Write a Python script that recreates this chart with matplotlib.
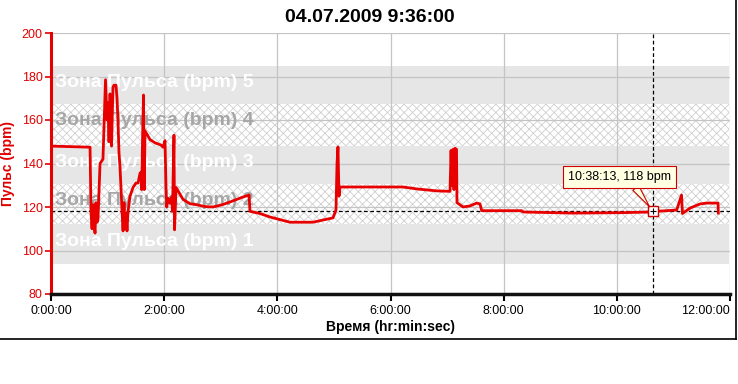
import matplotlib
matplotlib.use("Agg")
import matplotlib.pyplot as plt
from matplotlib.lines import Line2D

plt.rcParams["font.family"] = ["Liberation Sans", "DejaVu Sans"]
plt.rcParams["hatch.linewidth"] = 0.6

# Время в минутах от старта и пульс (bpm)
minutes = [0, 41.4, 42.4, 43.5, 44.5, 45.6, 46.7, 47.7, 48.8, 49.8, 52.0, 55.1,
           57.8, 59.4, 60.4, 61.5, 62.6, 64.2, 65.7, 66.8, 68.9, 70.0, 71.0,
           72.1, 73.2, 74.2, 75.3, 76.4, 77.4, 78.5, 79.5, 80.6, 81.7, 83.8,
           87.0, 90.1, 92.3, 94.4, 95.4, 96.2, 97.0, 98.1, 98.9, 99.7, 105.0,
           110.3, 116.6, 118.8, 120.9, 121.9, 122.7, 124.1, 126.2, 128.0,
           128.8, 130.4, 131.0, 132.6, 140.0, 147.4, 154.8, 163.3, 171.8,
           181.3, 189.8, 203.6, 210.0, 211.0, 221.6, 232.2, 253.4, 277.8,
           299.0, 302.2, 303.3, 304.3, 305.4, 306.5, 373.3, 388.1, 409.3,
           423.1, 424.2, 425.2, 426.3, 427.3, 428.4, 430.0, 430.5, 436.9,
           444.3, 451.4, 454.9, 456.7, 499.1, 500.5, 553.5, 606.6, 635.2,
           638.2, 649.3, 663.5, 668.6, 669.6, 677.6, 688.2, 695.3, 707.3, 707.6]
bpm = [148, 147.5, 118, 110, 121, 112, 108, 122, 113, 114, 140, 142,
       178.5, 160, 168, 150, 172, 148, 175, 176, 176, 170, 160,
       145, 138, 129, 118, 109, 122, 110, 117, 109, 118, 125,
       129, 131, 131, 135.5, 136, 128, 150, 171.5, 128, 155, 151,
       149.5, 148.5, 147.5, 150.5, 130, 120, 124, 121.8, 124.6,
       118, 153, 109.5, 129, 123.5, 121.5, 121, 120.2, 120,
       121, 122.3, 124.6, 125.5, 118, 117, 115.4, 113, 113,
       115, 118.6, 140, 147.6, 125, 129.2, 129.2, 128.3, 127.4,
       127.2, 146, 130, 146.5, 128, 147, 146.5, 122, 120,
       120.5, 121.8, 121.4, 118.3, 118.3, 117.7, 117.2, 117.4, 117.7,
       118, 118.2, 118.6, 125.5, 117, 119.5, 121.4, 121.8, 121.8, 117.2]

zone_edges = [94, 112, 130.5, 148, 167.5, 185]
zone_names = ["Зона Пульса (bpm) 1", "Зона Пульса (bpm) 2", "Зона Пульса (bpm) 3",
              "Зона Пульса (bpm) 4", "Зона Пульса (bpm) 5"]

cursor_sec = 10 * 3600 + 38 * 60 + 13   # 10:38:13
cursor_bpm = 118
title = "04.07.2009 9:36:00"


def hms(m, pos=None):
    s = int(round(m * 60))
    return f"{s // 3600}:{(s % 3600) // 60:02d}:{s % 60:02d}"


cursor_min = cursor_sec / 60

fig = plt.figure(figsize=(7.38, 3.84), dpi=100)
ax = fig.add_axes([51 / 738, 90 / 384, 679 / 738, 261 / 384])

# зоны пульса
for i, name in enumerate(zone_names):
    lo, hi = zone_edges[i], zone_edges[i + 1]
    if i % 2 == 0:
        ax.axhspan(lo, hi, xmin=0.003, xmax=0.998, facecolor="#e6e6e6",
                   edgecolor="none", lw=0, zorder=0.5)
        tcol = "white"
    else:
        ax.axhspan(lo, hi, xmin=0.003, xmax=0.998, facecolor="white",
                   edgecolor="#cfcfcf", hatch="xxxx", lw=0, zorder=0.5)
        tcol = "#a6a6a6"
    ax.text(4, hi - 9.8, name, color=tcol, fontsize=14, fontweight="bold",
            va="baseline", ha="left", zorder=2.6)

ax.plot(minutes, bpm, color="#e80000", lw=2, zorder=3)

ax.axhline(cursor_bpm, color="black", lw=0.9, ls=(0, (3, 2)), zorder=2.7)
ax.axvline(cursor_min, color="black", lw=0.9, ls=(0, (3, 2)), zorder=2.7)

ax.plot(cursor_min, cursor_bpm, marker="s", ms=7, mfc="white", mec="#d00000",
        mew=1, zorder=4)
ax.plot(cursor_min, cursor_bpm, marker="+", ms=5, mec="black", mew=0.8, zorder=5)

ax.annotate(f"{hms(cursor_min)}, {cursor_bpm} bpm", xy=(cursor_min, cursor_bpm),
            xytext=(-24, 25), textcoords="offset points", ha="center", va="center",
            fontsize=9, zorder=6,
            bbox=dict(boxstyle="square,pad=0.4", fc="#ffffe1", ec="#d00000", lw=0.8),
            arrowprops=dict(arrowstyle="wedge,tail_width=0.6", fc="#ffffe1",
                            ec="#d00000", lw=0.8, relpos=(0.62, 0), shrinkA=0,
                            shrinkB=4))

ax.set_xlim(0, 720)
ax.set_ylim(80, 200)
ax.set_xticks(range(0, 721, 120))
ax.set_yticks(range(80, 201, 20))
ax.xaxis.set_major_formatter(hms)

ax.set_axisbelow(False)
ax.grid(True, color="#c4c4c4", lw=0.9, zorder=2.5)
for gl in ax.get_xgridlines() + ax.get_ygridlines():
    gl.set_zorder(2.5)

for s in ["top", "right"]:
    ax.spines[s].set_visible(False)
ax.spines["left"].set_color("#e80000")
ax.spines["left"].set_linewidth(2.2)
ax.spines["bottom"].set_color("#111111")
ax.spines["bottom"].set_linewidth(2.5)
ax.spines["left"].set_zorder(6)
ax.spines["bottom"].set_zorder(6)

ax.tick_params(axis="y", colors="#e00000", labelsize=9, length=4, width=1.2, pad=2)
ax.tick_params(axis="x", colors="black", labelsize=9, length=5, width=1.5, pad=3)

# последняя подпись прижата к краю, как в окне программы
fig.canvas.draw()
ax.get_xticklabels()[-1].set_horizontalalignment("right")
ax.get_xticklabels()[-1].set_x(723)

ax.set_ylabel("Пульс (bpm)", color="#e00000", fontsize=10, fontweight="bold",
              labelpad=5)
ax.set_xlabel("Время (hr:min:sec)", fontsize=10, fontweight="bold", labelpad=2)

fig.text(370 / 738, 1 - 17 / 384, title, ha="center", va="center",
         fontsize=14, fontweight="bold")

# рамка окна
fig.add_artist(Line2D([736 / 738, 736 / 738], [1, 1 - 339 / 384],
                      transform=fig.transFigure, color="black", lw=1.2))
fig.add_artist(Line2D([0, 736 / 738], [1 - 339 / 384, 1 - 339 / 384],
                      transform=fig.transFigure, color="black", lw=1.2))

fig.savefig("out.png", dpi=100)
